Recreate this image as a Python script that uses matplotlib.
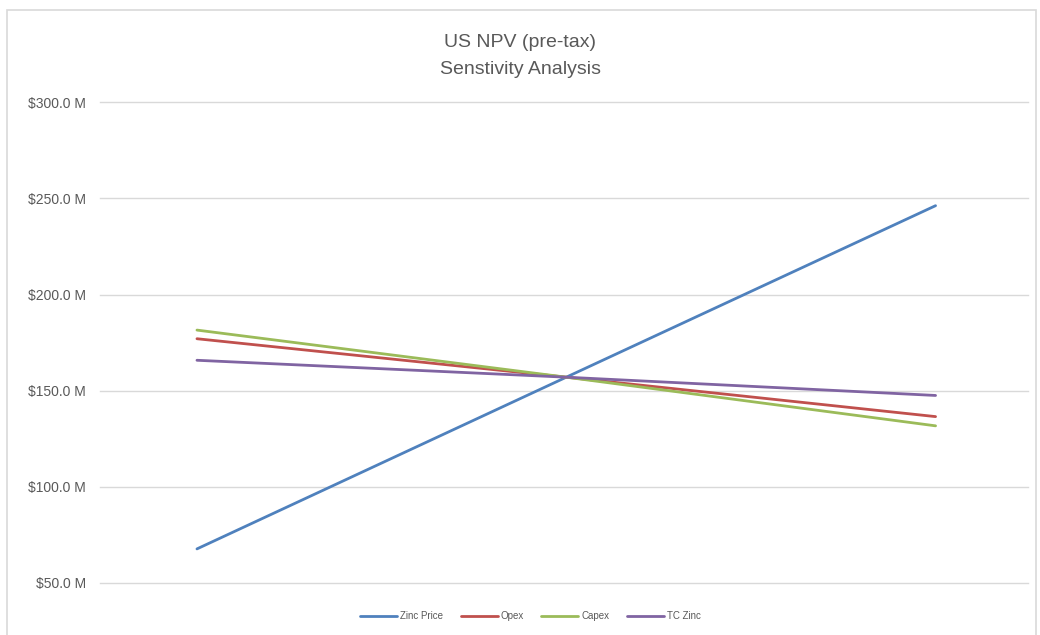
import matplotlib
matplotlib.use("Agg")
import matplotlib.pyplot as plt
from matplotlib.patches import Rectangle
from matplotlib.ticker import FuncFormatter

# sensitivity cases: low / base / high
cases = ["Low", "Base", "High"]
zinc_price = [67.7, 157.0, 246.2]
opex = [177.0, 157.0, 136.5]
capex = [181.5, 157.0, 131.7]
tc_zinc = [165.8, 157.0, 147.5]

series = [("Zinc Price", zinc_price, "#4F81BD"),
          ("Opex", opex, "#C0504D"),
          ("Capex", capex, "#9BBB59"),
          ("TC Zinc", tc_zinc, "#8064A2")]

plt.rcParams['font.family'] = ['Liberation Sans', 'DejaVu Sans']

fig = plt.figure(figsize=(10.4, 6.35), dpi=100)
ax = fig.add_axes([0.096, 0.082, 0.892, 0.757])

x = list(range(len(cases)))
for name, vals, col in series:
    ax.plot(x, vals, color=col, lw=2.0, label=name, solid_capstyle="round")

ax.set_ylim(50, 300)
ax.set_xlim(-0.263, 2.249)
ax.set_yticks([50, 100, 150, 200, 250, 300])
ax.yaxis.set_major_formatter(FuncFormatter(lambda v, p: "${:.1f} M".format(v)))
ax.set_xticks([])
ax.grid(axis="y", color="#D9D9D9", lw=1)
for g in ax.yaxis.get_gridlines():
    g.set_clip_on(False)
ax.set_axisbelow(True)
for s in ax.spines.values():
    s.set_visible(False)
ax.tick_params(axis="y", length=0, pad=10, labelsize=10, labelcolor="#595959")

fig.text(0.5, 0.912, "US NPV (pre-tax)\nSenstivity Analysis", ha="center", va="center",
         fontsize=14, color="#595959", linespacing=1.75)

leg = fig.legend(loc="center", bbox_to_anchor=(0.51, 0.03), ncol=4, frameon=False,
                 fontsize=7, handlelength=3.8, columnspacing=1.8, handletextpad=0.3)
for t in leg.get_texts():
    t.set_color("#595959")

fig.patches.append(Rectangle((7 / 1040, -0.01), 1029 / 1040, 1 - 10 / 635 + 0.01,
                             transform=fig.transFigure, fill=False,
                             edgecolor="#D9D9D9", lw=1.2))

fig.savefig("out.png", dpi=100, facecolor="white")
